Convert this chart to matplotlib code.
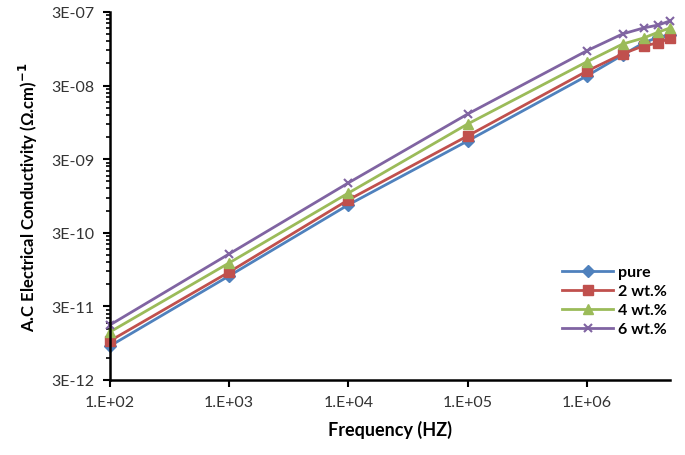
import numpy as np
import matplotlib.pyplot as plt
from matplotlib.ticker import FixedLocator, FuncFormatter, NullLocator, NullFormatter

# frequency points (Hz)
freq = [1e2, 1e3, 1e4, 1e5, 1e6, 2e6, 3e6, 4e6, 5e6]

# A.C conductivity
pure = [8.7e-12, 7.8e-11, 7.2e-10, 5.3e-9, 4.05e-8, 7.8e-8, 1.14e-7, 1.37e-7, 1.46e-7]
wt2 = [1.02e-11, 8.8e-11, 8.4e-10, 6.2e-9, 4.7e-8, 8.1e-8, 1.04e-7, 1.14e-7, 1.33e-7]
wt4 = [1.35e-11, 1.17e-10, 1.04e-9, 9.0e-9, 6.3e-8, 1.10e-7, 1.33e-7, 1.60e-7, 1.82e-7]
wt6 = [1.68e-11, 1.55e-10, 1.43e-9, 1.23e-8, 8.9e-8, 1.51e-7, 1.82e-7, 2.0e-7, 2.27e-7]

labels = ['pure', '2 wt.%', '4 wt.%', '6 wt.%']
y_ticks = [3e-12, 3e-11, 3e-10, 3e-9, 3e-8, 3e-7]
x_ticks = [1e2, 1e3, 1e4, 1e5, 1e6]

plt.rcParams['font.family'] = ['Lato', 'DejaVu Sans']

fig = plt.figure(figsize=(6.85, 4.56), dpi=100)
ax = fig.add_axes([0.1606, 0.1645, 0.8175, 0.807])

ax.plot(freq, pure, color='#4F81BD', lw=2, marker='D', ms=6, label=labels[0], clip_on=False)
ax.plot(freq, wt2, color='#C0504D', lw=2, marker='s', ms=7.5, label=labels[1], clip_on=False)
ax.plot(freq, wt4, color='#9BBB59', lw=2, marker='^', ms=7.5, label=labels[2], clip_on=False)
ax.plot(freq, wt6, color='#8064A2', lw=2, marker='x', ms=6, mew=1.5, label=labels[3], clip_on=False)

ax.set_xscale('log')
ax.set_yscale('log')
ax.set_xlim(1e2, 5e6)
ax.set_ylim(3e-12, 3e-7)

ax.xaxis.set_major_locator(FixedLocator(x_ticks))
ax.xaxis.set_minor_locator(NullLocator())
ax.xaxis.set_major_formatter(FuncFormatter(lambda v, p: '1.E+%02d' % round(np.log10(v))))

ax.yaxis.set_major_locator(FixedLocator(y_ticks))
minor = [t * k for t in y_ticks[:-1] for k in range(2, 10)]
ax.yaxis.set_minor_locator(FixedLocator(minor))
ax.yaxis.set_minor_formatter(NullFormatter())
ax.yaxis.set_major_formatter(FuncFormatter(lambda v, p: '3E-%02d' % round(-np.log10(v / 3))))

for s in ['top', 'right']:
    ax.spines[s].set_visible(False)
for s in ['left', 'bottom']:
    ax.spines[s].set_linewidth(1.8)

ax.tick_params(which='major', direction='out', length=5, width=1.5, labelsize=11.5,
               labelcolor='#333333', pad=6)
ax.tick_params(which='minor', direction='out', length=3, width=1.2)

ax.set_xlabel('Frequency (HZ)', fontsize=13, fontweight='bold', labelpad=8)
ax.set_ylabel('A.C Electrical Conductivity (Ω.cm)$^{\\mathbf{-1}}$', fontsize=12,
              fontweight='bold', labelpad=8)

leg = ax.legend(loc='lower right', bbox_to_anchor=(1.02, 0.08), frameon=False,
                prop={'weight': 'bold', 'size': 11.5}, handlelength=3.2,
                handletextpad=0.3, labelspacing=0.3)

fig.savefig('out.png', dpi=100)
